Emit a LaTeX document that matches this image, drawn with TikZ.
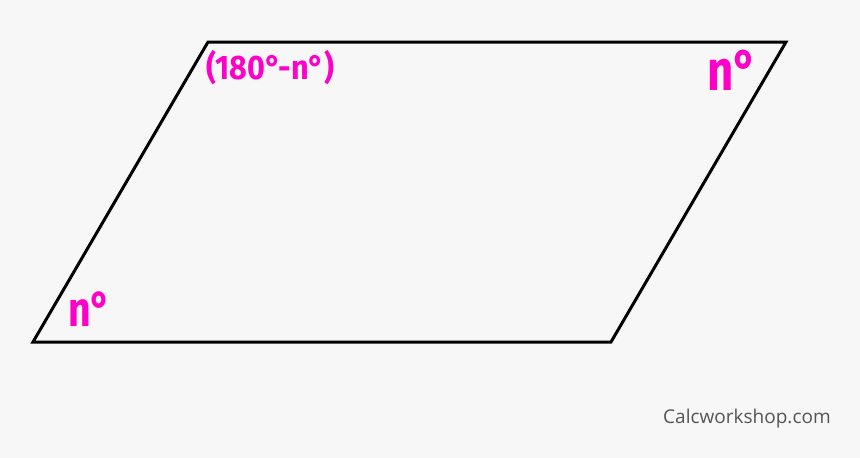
\documentclass[tikz,border=0pt]{standalone}
\usepackage{fontspec}
\setmainfont{Fira Sans}
\newfontfamily\wmfont{Open Sans}
\definecolor{bgc}{HTML}{F7F7F7}
\definecolor{mag}{HTML}{FF00C8}
\definecolor{wm}{HTML}{555555}
\begin{document}
\begin{tikzpicture}[x=1pt,y=-1pt,
  lbl/.style={inner sep=0pt,anchor=base west,text=mag,font=\bfseries},
  edge/.style={line width=3pt,line join=miter,black}]
\fill[bgc] (0,0) rectangle (860,458);
\useasboundingbox (0,0) rectangle (860,458);
\coordinate (A) at (33,342);
\coordinate (B) at (208,42);
\coordinate (C) at (786,42);
\coordinate (D) at (611,342);
\draw[edge] (A) -- (B) -- (C) -- (D) -- cycle;
\node[lbl] (top) at (206,79) {\fontsize{34}{34}\selectfont\scalebox{0.9}[1]{(180°-n°)}};
\node[lbl] (tr) at (707,90) {\fontsize{57}{57}\selectfont\scalebox{0.8}[1]{n°}};
\node[lbl] (bl) at (68,326) {\fontsize{49}{49}\selectfont\scalebox{0.8}[1]{n°}};
\node[inner sep=0pt,anchor=base west,text=wm,font=\wmfont\fontsize{19}{20}\selectfont] (wmk) at (663,423) {Calcworkshop.com};
\end{tikzpicture}
\end{document}
